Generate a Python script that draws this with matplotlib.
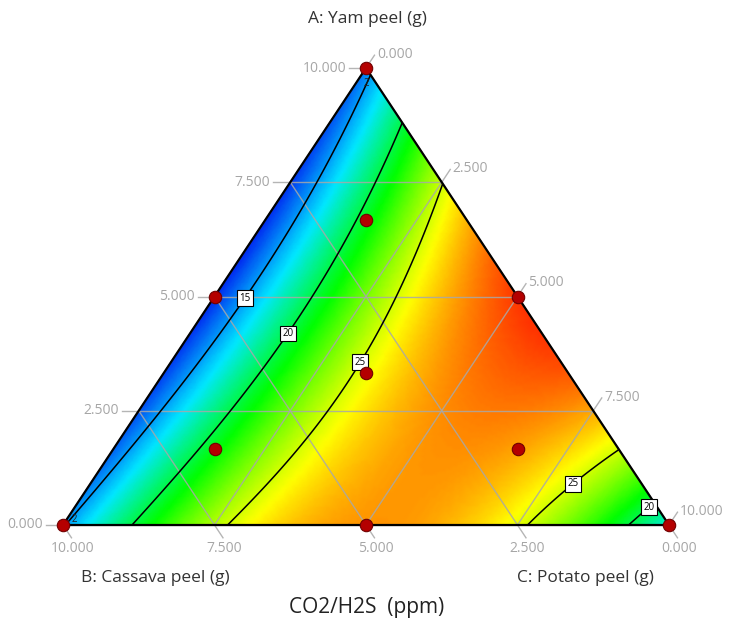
import numpy as np
import matplotlib
matplotlib.use('Agg')
import matplotlib.pyplot as plt
import matplotlib.tri as mtri
from matplotlib.colors import LinearSegmentedColormap

plt.rcParams['font.family'] = ['Open Sans', 'DejaVu Sans']

# ── readings from the picture (fractions of the 10 g mixture) ──
# design points: A yam, B cassava, C potato, response CO2/H2S (ppm)
design_a   = [1.0, 0.0, 0.0, 0.5, 0.5, 0.0, 1/3, 2/3, 1/6, 1/6]
design_b   = [0.0, 1.0, 0.0, 0.5, 0.0, 0.5, 1/3, 1/6, 2/3, 1/6]
design_c   = [0.0, 0.0, 1.0, 0.0, 0.5, 0.5, 1/3, 1/6, 1/6, 2/3]
design_val = [14.6, 14.8, 18.0, 12.3, 30.0, 28.0, 25.6, 20.8, 21.0, 28.0]
design_reps = [2, 2, 1, 1, 1, 1, 1, 1, 1, 1]

# points where the drawn contour lines cross
cont_a   = [0.974, 0.821, 0.499, 0.317, 0.011,
            0.871, 0.821, 0.450, 0.317, 0.000,
            0.733, 0.470, 0.357, 0.247, 0.000,
            0.193, 0.103, 0.000,
            0.044, 0.000]
cont_c   = [0.018, 0.040, 0.047, 0.046, 0.006,
            0.125, 0.133, 0.160, 0.161, 0.111,
            0.266, 0.309, 0.311, 0.317, 0.279,
            0.803, 0.785, 0.766,
            0.941, 0.932]
cont_val = [15] * 5 + [20] * 5 + [25] * 5 + [25] * 3 + [20] * 2
peak_a, peak_c, peak_val = [0.40], [0.60], [30.5]

levels = [15, 20, 25]
grid_vals = [0.0, 2.5, 5.0, 7.5, 10.0]
total = 10.0


def to_xy(a, c):
    a = np.asarray(a, float)
    c = np.asarray(c, float)
    return c + a / 2, a


def terms(a, b, c):
    return np.column_stack([a, b, c, a*b, a*c, b*c, a*b*c,
                            a*b*(a-b), a*c*(a-c), b*c*(b-c)])


# fit a Scheffe full cubic to the readings
fa = np.r_[design_a, cont_a, peak_a]
fc = np.r_[design_c, cont_c, peak_c]
fb = 1 - fa - fc
fy = np.r_[design_val, cont_val, peak_val]
coef, *_ = np.linalg.lstsq(terms(fa, fb, fc), fy, rcond=None)

# lattice over the simplex
n = 160
ii, jj = np.meshgrid(np.arange(n + 1), np.arange(n + 1))
keep = ii + jj <= n
ga = ii[keep] / n
gc = jj[keep] / n
gb = np.clip(1 - ga - gc, 0, 1)
gx, gy = to_xy(ga, gc)
z = terms(ga, gb, gc) @ coef
tri = mtri.Triangulation(gx, gy)

cmap = LinearSegmentedColormap.from_list(
    'de', ['#0028f0', '#00e8ff', '#00ff00', '#ffff00', '#ff1800'])

fig = plt.figure(figsize=(7.3, 6.28), dpi=100)
ax = fig.add_axes([63/730, 103/628, 606/730, 457/628])
ax.set_xlim(0, 1)
ax.set_ylim(0, 1)
ax.axis('off')

ax.tripcolor(tri, z, shading='gouraud', cmap=cmap, vmin=z.min(), vmax=z.max() + 0.5)

# grid lines + ticks
gcol = '#a8a8a8'
for g in grid_vals:
    f = g / total
    # A = const (horizontal)
    x0, y0 = to_xy(f, 0)
    x1, y1 = to_xy(f, 1 - f)
    ax.plot([x0 - 0.028, x1], [y0, y1], color=gcol, lw=1, alpha=0.85, clip_on=False)
    ax.text(x0 - 0.033, y0, f'{g:.3f}', ha='right', va='center', fontsize=10, color='#a6a6a6')
    # B = const
    x0, y0 = to_xy(1 - f, 0)
    x1, y1 = to_xy(0, 1 - f)
    ax.plot([x0, x1 + 0.014], [y0, y1 - 0.028], color=gcol, lw=1, alpha=0.85, clip_on=False)
    ax.text(x1 + 0.016, y1 - 0.035, f'{g:.3f}', ha='center', va='top', fontsize=10, color='#a6a6a6')
    # C = const
    x0, y0 = to_xy(0, f)
    x1, y1 = to_xy(1 - f, f)
    ax.plot([x0, x1 + 0.014], [y0, y1 + 0.028], color=gcol, lw=1, alpha=0.85, clip_on=False)
    ax.text(x1 + 0.018, y1 + 0.03, f'{g:.3f}', ha='left', va='center', fontsize=10, color='#a6a6a6')

cs = ax.tricontour(tri, z, levels=levels, colors='black', linewidths=1.1)
lab_a = [0.499, 0.4245, 0.357, 0.112, 0.042]
lab_c = [0.047, 0.153, 0.311, 0.772, 0.944]
lab_x, lab_y = to_xy(lab_a, lab_c)
texts = ax.clabel(cs, fontsize=7, fmt='%d', inline=True, inline_spacing=2,
                  manual=list(zip(lab_x, lab_y)))
for t in texts:
    t.set_rotation(0)
    t.set_bbox(dict(boxstyle='square,pad=0.25', fc='white', ec='black', lw=0.8))

# triangle outline
tx, ty = to_xy([1, 0, 0, 1], [0, 0, 1, 0])
ax.plot(tx, ty, color='black', lw=1.6, clip_on=False)

# design points
dx, dy = to_xy(design_a, design_c)
ax.scatter(dx, dy, s=80, color='#b40000', edgecolors='#700000', linewidths=0.8,
           zorder=5, clip_on=False)
for x, y, r in zip(dx, dy, design_reps):
    if r > 1:
        off = (0, -11) if y > 0.5 else (8, 4)
        ax.annotate(str(r), (x, y), xytext=off, textcoords='offset points',
                    ha='center', va='center', fontsize=7, color='#222222', zorder=6)

fig.text(367/730, 1 - 19/628, 'A: Yam peel (g)', ha='center', va='center', fontsize=12.5, color='#333333')
fig.text(155/730, 1 - 578/628, 'B: Cassava peel (g)', ha='center', va='center', fontsize=12.5, color='#333333')
fig.text(585/730, 1 - 578/628, 'C: Potato peel (g)', ha='center', va='center', fontsize=12.5, color='#333333')
fig.text(367/730, 1 - 607/628, 'CO2/H2S  (ppm)', ha='center', va='center', fontsize=15, color='#222222')

fig.savefig('out.png', dpi=100)
